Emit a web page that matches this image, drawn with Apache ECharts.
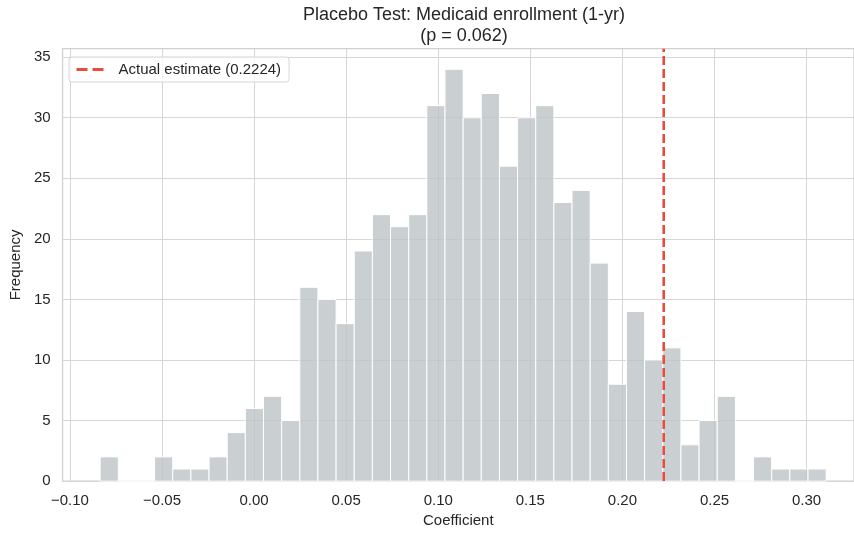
<!DOCTYPE html>
<html>
<head>
<meta charset="utf-8">
<script src="https://cdn.jsdelivr.net/npm/echarts@6/dist/echarts.min.js"></script>
<style>html,body{margin:0;padding:0;background:#fff;}#c{width:854px;height:533px;}</style>
</head>
<body>
<div id="c"></div>
<script>
// Histogram data (40 bins)
const binStart = -0.0836;
const binWidth = 0.009855;
const counts = [2,0,0,2,1,1,2,4,6,7,5,16,15,13,19,22,21,22,31,34,30,32,26,30,31,23,24,18,8,14,10,11,3,5,7,0,2,1,1,1];
const actualEstimate = 0.2224;
const xTicks = [-0.10,-0.05,0.00,0.05,0.10,0.15,0.20,0.25,0.30];
const yTicks = [0,5,10,15,20,25,30,35];
const titleText = 'Placebo Test: Medicaid enrollment (1-yr)\n(p = 0.062)';
const legendName = 'Actual estimate (0.2224)';

const barData = counts.map((c, i) => [binStart + i * binWidth, binStart + (i + 1) * binWidth, c]);
const yMax = Math.max(...counts) * 1.05;
const FONT = '"Liberation Sans", Arial, sans-serif';
const fmtX = v => (v < 0 ? '\u2212' : '') + Math.abs(v).toFixed(2);

const chart = echarts.init(document.getElementById('c'), null, {renderer: 'canvas'});
chart.setOption({
  animation: false,
  backgroundColor: '#fff',
  title: {
    text: titleText, left: 459, textAlign: 'center', top: 0,
    textStyle: {fontFamily: FONT, fontSize: 18, fontWeight: 'normal', color: '#262626', lineHeight: 21}
  },
  legend: {
    left: 69, top: 57, orient: 'vertical',
    padding: [5, 8, 5, 6],
    itemWidth: 28, itemHeight: 14,
    backgroundColor: 'rgba(255,255,255,0.8)',
    borderColor: '#d6d6d6', borderWidth: 1, borderRadius: 3,
    itemStyle: {opacity: 0},
    lineStyle: {type: [11, 5], width: 3},
    textStyle: {fontFamily: FONT, fontSize: 15, color: '#262626', padding: [0, 0, 0, 9]},
    data: [legendName]
  },
  grid: {left: 61, right: 0, top: 48.7, bottom: 50.3, show: true, borderColor: '#d0d0d0', borderWidth: 1.25, containLabel: false},
  xAxis: {
    type: 'value', min: -0.104, max: 0.32573,
    axisLine: {show: false}, axisTick: {show: false, customValues: xTicks},
    axisLabel: {customValues: xTicks, formatter: fmtX, fontFamily: FONT, fontSize: 15, color: '#262626', margin: 12},
    splitLine: {show: true, lineStyle: {color: '#d6d6d6', width: 1}},
    name: 'Coefficient', nameLocation: 'middle', nameGap: 31,
    nameTextStyle: {fontFamily: FONT, fontSize: 15, color: '#262626'}
  },
  yAxis: {
    type: 'value', min: 0, max: yMax,
    axisLine: {show: false}, axisTick: {show: false, customValues: yTicks},
    axisLabel: {customValues: yTicks, fontFamily: FONT, fontSize: 15, color: '#262626', margin: 12},
    splitLine: {show: true, lineStyle: {color: '#d6d6d6', width: 1}},
    name: 'Frequency', nameLocation: 'middle', nameGap: 35,
    nameTextStyle: {fontFamily: FONT, fontSize: 15, color: '#262626'}
  },
  series: [
    {
      type: 'custom',
      name: 'hist',
      data: barData,
      encode: {x: [0, 1], y: 2},
      renderItem: function (params, api) {
        const p0 = api.coord([api.value(0), api.value(2)]);
        const p1 = api.coord([api.value(1), 0]);
        return {
          type: 'rect',
          shape: {x: p0[0], y: p0[1], width: p1[0] - p0[0], height: p1[1] - p0[1]},
          style: {fill: 'rgba(189,195,199,0.8)', stroke: '#ffffff', lineWidth: 1}
        };
      },
      z: 2
    },
    {
      type: 'line',
      name: legendName,
      data: [[actualEstimate, 0], [actualEstimate, yMax]],
      symbol: 'none',
      lineStyle: {color: '#e74c3c', width: 2.6, type: [9, 4]},
      itemStyle: {color: '#e74c3c'},
      z: 5
    }
  ]
});
</script>
</body>
</html>
